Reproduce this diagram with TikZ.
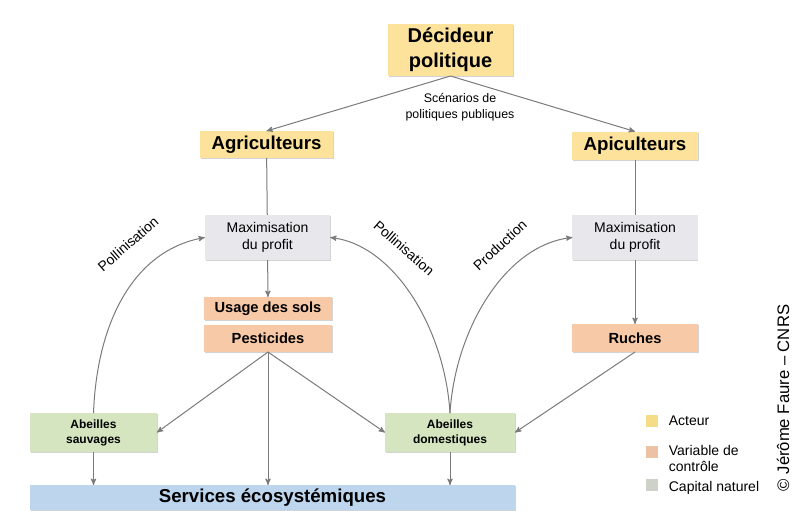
\documentclass[tikz,border=0pt]{standalone}
\usepackage{fontspec}
\setmainfont{Liberation Sans}
\usepackage{xcolor}
\usetikzlibrary{arrows,positioning,shadows}
\definecolor{actor}{HTML}{FCE29A}
\definecolor{ctrl}{HTML}{F8C9A6}
\definecolor{capit}{HTML}{E8E8EC}
\definecolor{bee}{HTML}{D5E5BF}
\definecolor{serv}{HTML}{BDD6EE}
\definecolor{wire}{HTML}{7A7A7A}
\definecolor{legy}{HTML}{F5DC86}
\definecolor{lego}{HTML}{EDC2A4}
\definecolor{legn}{HTML}{CDD1C8}

\begin{document}
\begin{tikzpicture}[x=0.75pt,y=-0.75pt,>=stealth',
	every edge/.append style={draw=wire,line width=0.75pt},
	box/.style={rectangle,inner sep=0pt,outer sep=0pt,align=center,
		drop shadow={shadow xshift=0.6pt,shadow yshift=-0.8pt,opacity=0.35}},
	actorbox/.style={box,fill=actor,font=\bfseries\fontsize{14}{18.5}\selectfont},
	ctrlbox/.style={box,fill=ctrl,minimum width=96pt,font=\bfseries\fontsize{11}{13}\selectfont},
	capbox/.style={box,fill=capit,minimum width=94pt,minimum height=34pt,font=\fontsize{10.5}{12.75}\selectfont},
	beebox/.style={box,fill=bee,minimum height=29pt,font=\bfseries\fontsize{9}{11.25}\selectfont},
	lbl/.style={inner sep=0pt,font=\fontsize{10.5}{12}\selectfont},
	leg/.style={inner sep=0pt,minimum size=8.5pt},
	wires/.style={draw=wire,line width=0.75pt}]
	\useasboundingbox (0,0) rectangle (805,510);

	% acteurs
	\node [actorbox,minimum width=93.75pt,minimum height=39pt,font=\bfseries\fontsize{15}{18.5}\selectfont] at (450.5,50) (dec) {Décideur\\politique};
	\node [actorbox,minimum width=100pt,minimum height=20.25pt] at (266.5,144.5) (agri) {Agriculteurs};
	\node [actorbox,minimum width=94.5pt,minimum height=21pt] at (635,145.5) (api) {Apiculteurs};
	\node [lbl,align=center,font=\fontsize{9.3}{12}\selectfont] at (460,107) (scen) {Scénarios de\\politiques publiques};

	% capital / variables
	\node [capbox] at (267.5,237.5) (maxL) {Maximisation\\du profit};
	\node [capbox] at (635,237.5) (maxR) {Maximisation\\du profit};
	\node [ctrlbox,minimum height=17.25pt] at (268,308.5) (usage) {Usage des sols};
	\node [ctrlbox,minimum height=20.25pt] at (268,338.5) (pest) {Pesticides};
	\node [ctrlbox,minimum width=94.5pt,minimum height=21pt] at (635,338) (ruch) {Ruches};

	% abeilles et services
	\node [beebox,minimum width=95pt] at (93.5,432.5) (sauv) {Abeilles\\sauvages};
	\node [beebox,minimum width=97.5pt] at (450,432.5) (dom) {Abeilles\\domestiques};
	\node [box,fill=serv,minimum width=364pt,minimum height=18.75pt,font=\bfseries\fontsize{14}{16}\selectfont] at (272.5,497.5) (serv) {Services écosystémiques};

	% fleches
	\path[->]
	(dec.south) edge (agri.north)
	(dec.south) edge (api.north)
	(maxL) edge (usage)
	(maxR) edge (ruch)
	(pest.south) edge (sauv.east)
	(pest.south) edge (dom.west)
	(pest.south) edge (pest.south |- serv.north)
	(ruch.south) edge (dom.east)
	(sauv.south) edge (sauv.south |- serv.north)
	(dom.south) edge (dom.south |- serv.north);
	\path
	(agri) edge (maxL)
	(api) edge (maxR);

	\draw[wires,->] (sauv.north) .. controls (97,320) and (135,250) .. (maxL.west);
	\draw[wires,->] (dom.north) .. controls (445,330) and (395,245) .. (maxL.east);
	\draw[wires,->] (dom.north) .. controls (455,330) and (505,245) .. (maxR.west);
	\node [lbl,rotate=41] at (128,244) (pol1) {Pollinisation};
	\node [lbl,rotate=-41] at (404,248) (pol2) {Pollinisation};
	\node [lbl,rotate=43] at (500,245) (prod) {Production};

	% legende
	\node [leg,fill=legy] at (652,421) (la) {};
	\node [leg,fill=lego] at (652,452) (lc) {};
	\node [leg,fill=legn] at (652,485) (ln) {};
	\node [lbl,anchor=west,right=8pt of la] (ta) {Acteur};
	\node [lbl,anchor=west,align=left,right=8pt of lc,yshift=-5pt] (tc) {Variable de\\contrôle};
	\node [lbl,anchor=west,right=8pt of ln,yshift=-2pt] (tn) {Capital naturel};

	\node [inner sep=0pt,rotate=90,font=\fontsize{12.5}{14}\selectfont] at (783,398) (copy) {© Jérôme Faure – CNRS};
\end{tikzpicture}
\end{document}
